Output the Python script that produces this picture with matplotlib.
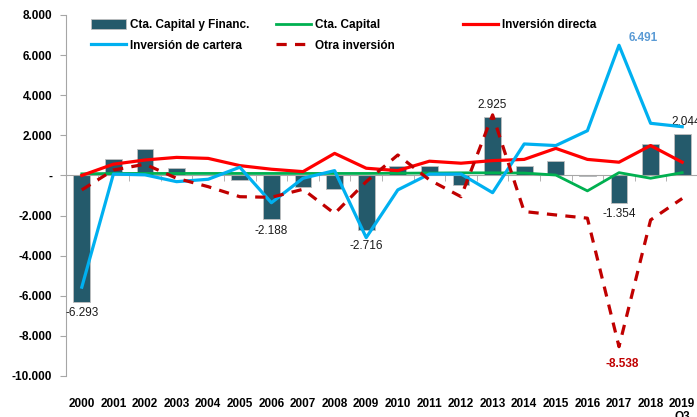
import matplotlib
matplotlib.use("Agg")
import matplotlib.pyplot as plt
import numpy as np
from matplotlib.ticker import FuncFormatter, FixedLocator
from matplotlib.lines import Line2D
from matplotlib.patches import Patch

years = ["2000", "2001", "2002", "2003", "2004", "2005", "2006", "2007", "2008", "2009",
         "2010", "2011", "2012", "2013", "2014", "2015", "2016", "2017", "2018", "2019\nQ3"]

cta_cap_fin = [-6293, 800, 1300, 360, 0, -225, -2188, -560, -660, -2716,
               450, 450, -500, 2925, 450, 720, -20, -1354, 1570, 2044]
cta_capital = [80, 100, 100, 100, 100, 100, 100, 100, 100, 100,
               110, 120, 130, 130, 120, 20, -770, 140, -140, 140]
inv_directa = [0, 560, 770, 900, 850, 490, 310, 190, 1100, 360,
               240, 710, 610, 740, 800, 1350, 800, 660, 1490, 660]
inv_cartera = [-5570, 70, 30, -310, -190, 410, -1360, -140, 240, -3100,
               -720, 70, 70, -860, 1570, 1490, 2230, 6491, 2600, 2430]
otra_inv = [-720, 270, 560, -140, -560, -1060, -1090, -690, -1900, -310,
            1020, -220, -1060, 3020, -1800, -1970, -2130, -8538, -2220, -1150]

C_BAR = "#245A6B"
C_GREEN = "#00B050"
C_RED = "#FF0000"
C_BLUE = "#00B0F0"
C_DRED = "#C00000"

plt.rcParams['font.family'] = ['Liberation Sans', 'DejaVu Sans']

fig = plt.figure(figsize=(6.97, 4.17), dpi=100)
ax = fig.add_axes([66 / 697, 1 - 376 / 417, 632 / 697, 361 / 417])

x = np.arange(len(years))
ax.bar(x, cta_cap_fin, width=0.53, color=C_BAR, edgecolor="#BFBFBF", linewidth=0.6, zorder=2)
ax.plot(x, cta_capital, color=C_GREEN, lw=2.0, zorder=3)
ax.plot(x, inv_directa, color=C_RED, lw=2.3, zorder=4)
ax.plot(x, inv_cartera, color=C_BLUE, lw=2.3, zorder=4)
ax.plot(x, otra_inv, color=C_DRED, lw=2.3, ls=(0, (3.2, 2.6)), zorder=4)

ax.set_xlim(-0.5, len(years) - 0.5)
ax.set_ylim(-10000, 8000)
ax.set_yticks(np.arange(-10000, 8001, 2000))

def fmt(v, pos):
    if abs(v) < 1e-6:
        return "-"
    return f"{int(v):,}".replace(",", ".")

ax.yaxis.set_major_formatter(FuncFormatter(fmt))
ax.tick_params(axis='y', length=4, color="#A6A6A6", labelsize=8.5, pad=6)
for lab in ax.get_yticklabels():
    lab.set_fontweight('bold')

for s in ['top', 'right']:
    ax.spines[s].set_visible(False)
ax.spines['left'].set_color("#A6A6A6")
ax.spines['bottom'].set_position(('data', 0))
ax.spines['bottom'].set_color("#A6A6A6")
ax.spines['bottom'].set_zorder(2.5)
ax.set_xticks([])
ax.xaxis.set_minor_locator(FixedLocator(x[:-1] + 0.5))
ax.tick_params(axis='x', which='minor', length=4, color="#A6A6A6", direction='out')

trans = matplotlib.transforms.blended_transform_factory(ax.transData, ax.transAxes)
for i, lab in enumerate(years):
    ax.text(i, -0.062, lab, transform=trans, ha='center', va='top', fontsize=8.5,
            fontweight='bold', linespacing=1.05, clip_on=False)

# data labels
lab_font = dict(fontsize=8.5, color="#1A1A1A")
def fmtv(v):
    return f"{v:,}".replace(",", ".")

for i in [0, 6, 17]:
    ax.annotate(fmtv(cta_cap_fin[i]), (i, cta_cap_fin[i]), xytext=(0, -4),
                textcoords='offset points', ha='center', va='top', **lab_font)
ax.annotate(fmtv(cta_cap_fin[9]), (9, cta_cap_fin[9]), xytext=(0, -7),
            textcoords='offset points', ha='center', va='top', **lab_font)
ax.annotate(fmtv(cta_cap_fin[13]), (13, cta_cap_fin[13]), xytext=(0, 4),
            textcoords='offset points', ha='center', va='bottom', **lab_font)
ax.annotate(fmtv(cta_cap_fin[19]), (19, cta_cap_fin[19]), xytext=(3, 5),
            textcoords='offset points', ha='center', va='bottom', **lab_font)
ax.annotate(fmtv(inv_cartera[17]), (17, inv_cartera[17]), xytext=(7, 1),
            textcoords='offset points', ha='left', va='bottom', fontsize=8.5,
            fontweight='bold', color="#5B9BD5")
ax.annotate(fmtv(otra_inv[17]), (17, otra_inv[17]), xytext=(2, -8),
            textcoords='offset points', ha='center', va='top', fontsize=8.5,
            fontweight='bold', color=C_DRED)

# legends
h_bar = Patch(facecolor=C_BAR, edgecolor="#BFBFBF", linewidth=0.6)
h_green = Line2D([], [], color=C_GREEN, lw=2.0)
h_red = Line2D([], [], color=C_RED, lw=2.3)
h_blue = Line2D([], [], color=C_BLUE, lw=2.3)
h_dred = Line2D([], [], color=C_DRED, lw=2.3, ls=(0, (3.2, 2.6)))

leg_kw = dict(frameon=False, prop=dict(size=8.5, weight='bold'), handlelength=3.0,
              handleheight=0.9, handletextpad=0.3, labelspacing=0.75, borderpad=0,
              borderaxespad=0, loc='upper left')
l1 = fig.legend([h_bar, h_blue], ["Cta. Capital y Financ.", "Inversión de cartera"],
                bbox_to_anchor=(91 / 697, 1 - 19 / 417), **leg_kw)
l2 = fig.legend([h_green, h_dred], ["Cta. Capital", "Otra inversión"],
                bbox_to_anchor=(276 / 697, 1 - 19 / 417), **leg_kw)
l3 = fig.legend([h_red], ["Inversión directa"],
                bbox_to_anchor=(463 / 697, 1 - 19 / 417), **leg_kw)

fig.savefig("out.png", dpi=100)
